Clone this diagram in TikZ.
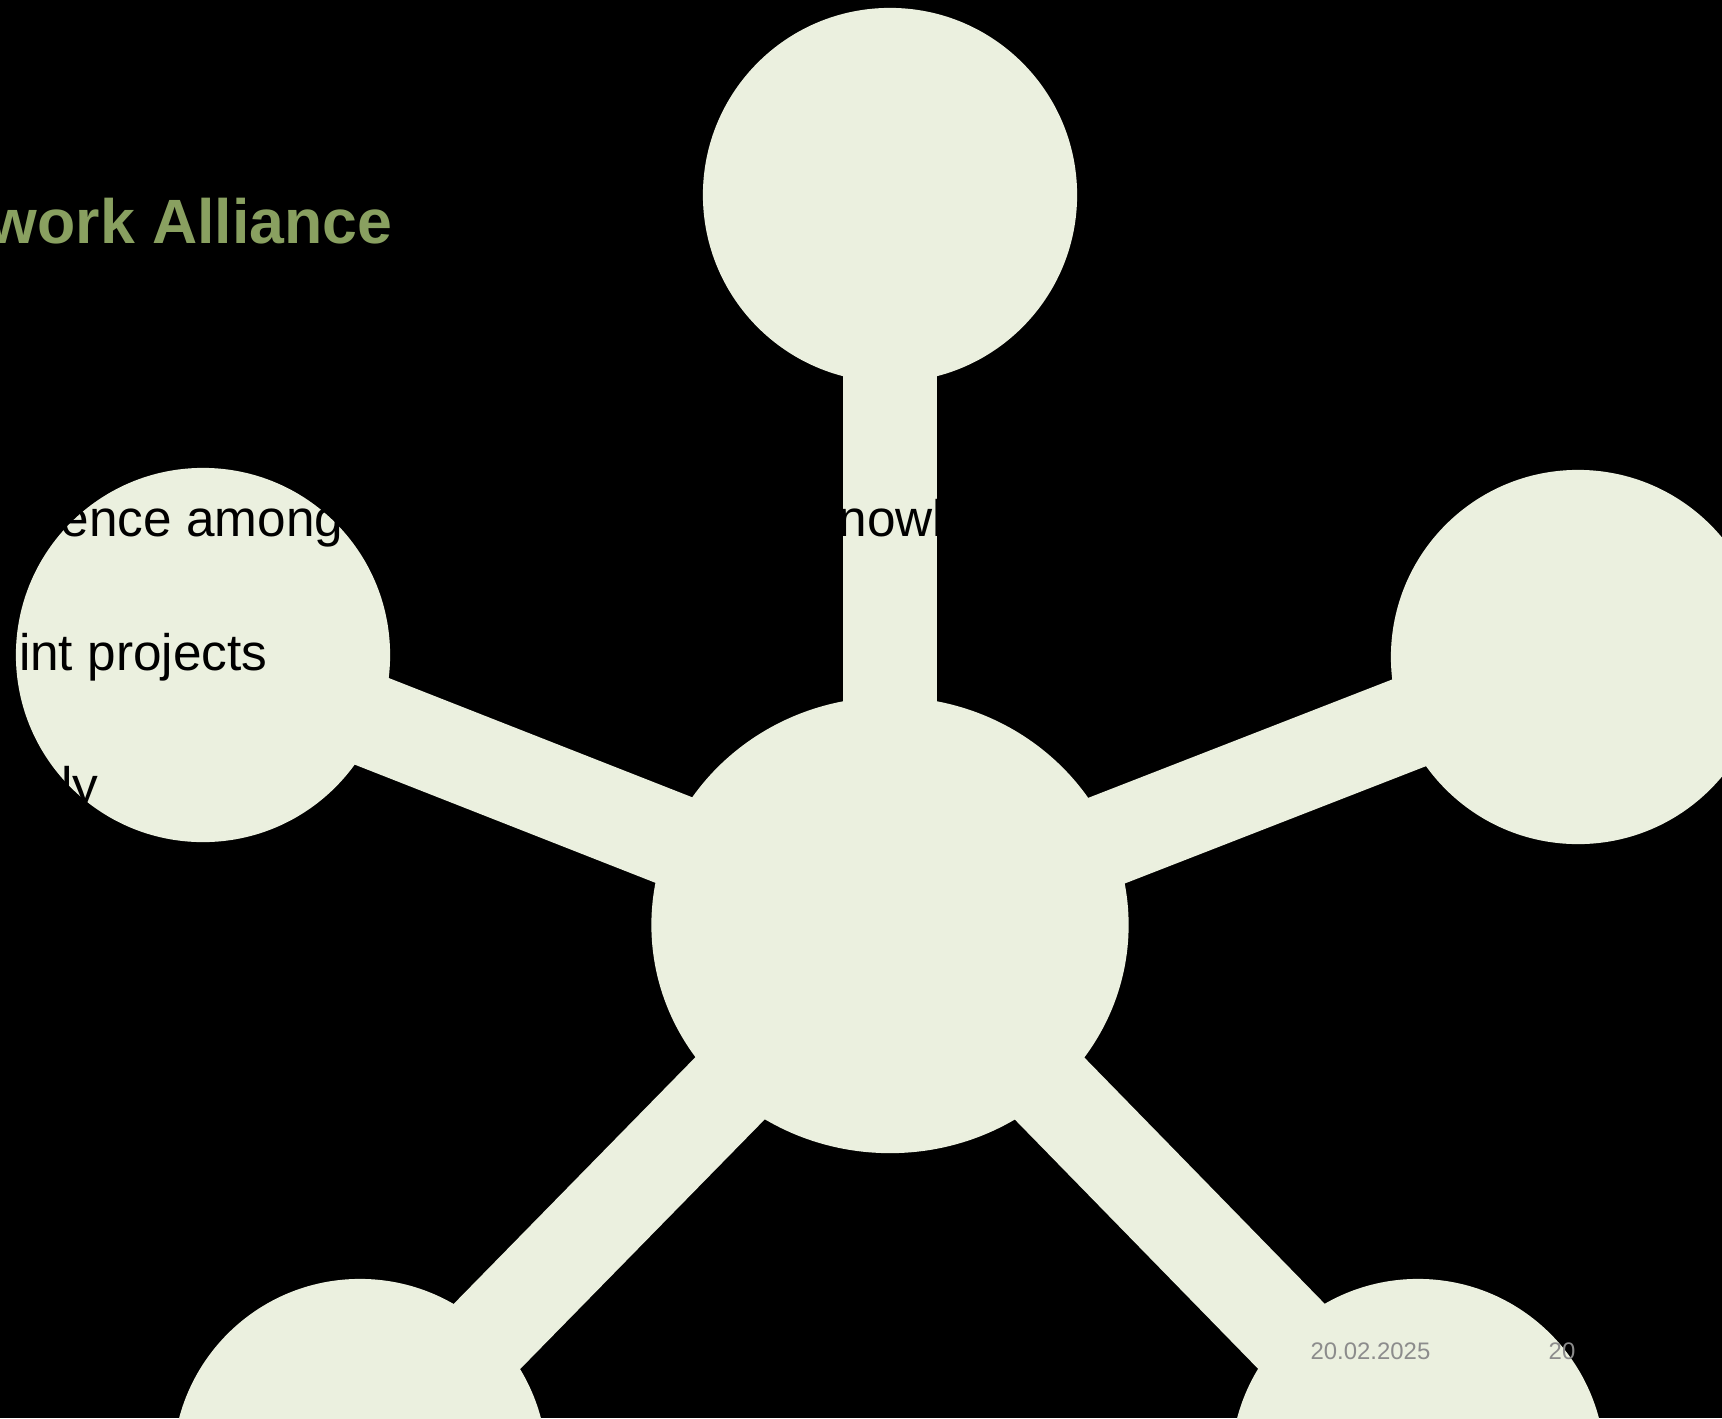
\documentclass[tikz,border=0pt]{standalone}
\usepackage{fontspec}
\setmainfont{Liberation Sans}
\usepackage{xcolor}
\usepackage{tikz}
\usetikzlibrary{positioning,shapes.geometric,backgrounds}
\definecolor{paper}{HTML}{000000}
\definecolor{sage}{HTML}{EBF0DF}
\definecolor{leafgreen}{HTML}{89A060}
\definecolor{footgrey}{HTML}{8C8C8C}
\tikzset{
  leaf/.style={circle, fill=sage, draw=none, inner sep=0pt, minimum size=3.74cm},
  hub/.style={ellipse, fill=sage, draw=none, inner sep=0pt,
              minimum width=4.77cm, minimum height=4.56cm},
  spoke/.style={draw=sage, line width=0.93cm},
  ttl/.style={font=\fontsize{17.8}{21}\selectfont\bfseries, text=leafgreen,
              inner sep=0pt, anchor=base east},
  body/.style={font=\fontsize{14.6}{17}\selectfont, text=black, inner sep=0pt},
  foot/.style={font=\fontsize{6.8}{8}\selectfont, text=footgrey, inner sep=0pt},
}

\begin{document}
\begin{tikzpicture}[x=0.01cm, y=-0.01cm]
  \useasboundingbox (0,0) rectangle (1722,1418);

  % hub and the five leaves
  \node[hub] (core) at (890,925) {};
  \node[leaf] (north) at (890,195) {};
  \node[leaf] (west) at (203,655) {};
  \node[leaf] (east) at (1578,657) {};
  \node[leaf] (southwest) at (360,1466) {};
  \node[leaf] (southeast) at (1418,1466) {};

  \begin{scope}[on background layer]
    \fill[paper] (0,0) rectangle (1722,1418);
    \foreach \n in {north,west,east,southwest,southeast}
      \draw[spoke] (core.center) -- (\n.center);
  \end{scope}

  % slide text
  \node[ttl] (title) at (393,243) {work Alliance};
  \node[body, anchor=base east] (lineA) at (344,536) {ence among};
  \node[body, anchor=base west] (lineB) at (838,536) {nowl};
  \node[body, anchor=base east] (lineC) at (268,670) {int projects};
  \node[body, anchor=base east] (lineD) at (99,803) {ly};

  % footer
  \node[foot, anchor=base east] (date) at (1431,1359) {20.02.2025};
  \node[foot, anchor=base west] (page) at (1548,1359) {20};
\end{tikzpicture}
\end{document}
